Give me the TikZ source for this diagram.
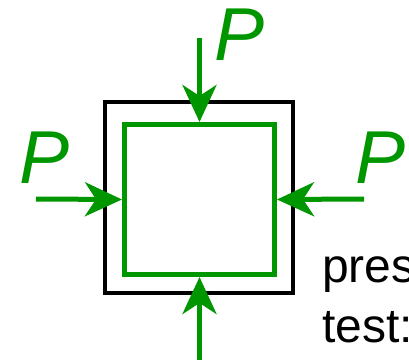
\documentclass[tikz,border=0pt]{standalone}
\usepackage{fontspec}
\setmainfont{Liberation Sans}
\usetikzlibrary{arrows.meta}
\definecolor{loadgreen}{RGB}{0,150,0}
\begin{document}
\begin{tikzpicture}[x=1pt, y=-1pt,
    frame/.style = {draw=black, line width=4pt, minimum width=188pt, minimum height=191pt, inner sep=0pt},
    sample/.style = {draw=loadgreen, line width=5pt, minimum size=150pt, inner sep=0pt},
    load/.style = {draw=loadgreen, line width=5pt, -{Stealth[length=37pt, width=34pt, inset=11pt]}, fill=loadgreen},
    force/.style = {text=loadgreen, font=\fontsize{75}{75}\selectfont\itshape, inner sep=0pt, anchor=base west}]
        \useasboundingbox (0,0) rectangle (409,359);
        \node[frame] (1) at (199,197.5) {};
        \node[sample] (2) at (199.5,199.5) {};
        \coordinate (t) at (199.5,38);
        \coordinate (l) at (36,199);
        \coordinate (r) at (364,199);
        \coordinate (b) at (199.5,362);
        \draw[load] (t) -- (2.north);
        \draw[load] (l) -- (2.west);
        \draw[load] (r) -- (2.east);
        \draw[load] (b) -- (2.south);
        \node[force] (pt) at (214,60) {P};
        \node[force] (pl) at (19,183) {P};
        \node[force] (pr) at (355,183) {P};
        \node[font=\fontsize{48}{48}\selectfont, inner sep=0pt, anchor=base west] (3) at (322,282) {pres};
        \node[font=\fontsize{48}{48}\selectfont, inner sep=0pt, anchor=base west] (4) at (322,342) {test:};
    \end{tikzpicture}
\end{document}
